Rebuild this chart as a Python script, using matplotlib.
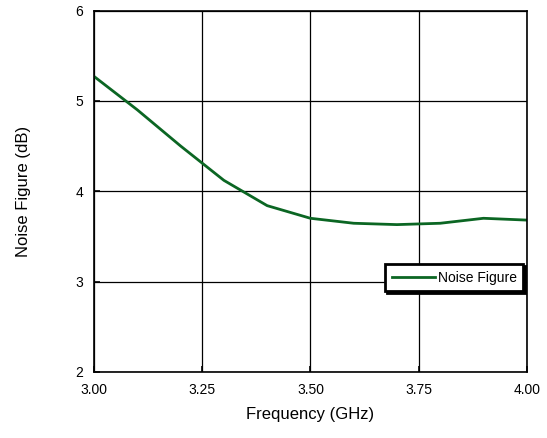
import matplotlib.pyplot as plt
from matplotlib.ticker import FormatStrFormatter

plt.rcParams['font.family'] = ['Liberation Sans', 'DejaVu Sans']

freq = [3.0, 3.1, 3.2, 3.3, 3.4, 3.5, 3.6, 3.7, 3.8, 3.9, 4.0]
nf = [5.27, 4.90, 4.50, 4.12, 3.84, 3.70, 3.645, 3.63, 3.645, 3.70, 3.68]

x_ticks = [3.00, 3.25, 3.50, 3.75, 4.00]
y_ticks = [2, 3, 4, 5, 6]

fig = plt.figure(figsize=(5.47, 4.38), dpi=100)
ax = fig.add_axes([0.172, 0.151, 0.791, 0.825])

ax.plot(freq, nf, color='#0b6623', linewidth=2.0, label='Noise Figure')

ax.set_xlim(3.0, 4.0)
ax.set_ylim(2, 6)
ax.set_xticks(x_ticks)
ax.set_yticks(y_ticks)
ax.xaxis.set_major_formatter(FormatStrFormatter('%.2f'))
ax.grid(True, color='black', linewidth=0.9)
ax.tick_params(direction='in', length=4, width=1.2, labelsize=10, pad=8)
for s in ax.spines.values():
    s.set_linewidth(1.2)

ax.set_xlabel('Frequency (GHz)', fontsize=12, labelpad=7)
ax.set_ylabel('Noise Figure (dB)', fontsize=12, labelpad=32)

leg = ax.legend(loc='lower right', bbox_to_anchor=(1.008, 0.205), fontsize=10,
                fancybox=False, shadow={'color': 'black', 'alpha': 1, 'ox': 1.5, 'oy': -1.5},
                framealpha=1, edgecolor='black',
                borderpad=0.45, handlelength=3.1, handletextpad=0.25)
leg.get_frame().set_linewidth(2.0)

plt.savefig('out.png', dpi=100)
